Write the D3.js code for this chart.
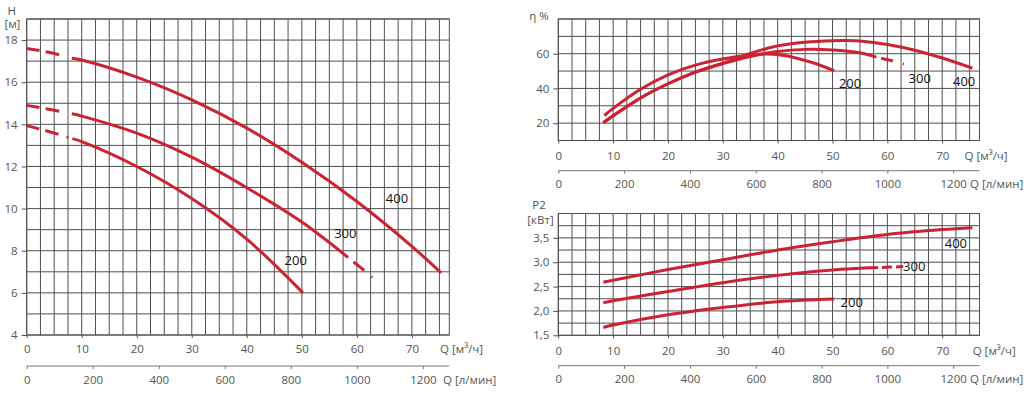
<!DOCTYPE html>
<html><head><meta charset="utf-8">
<script src="https://cdn.jsdelivr.net/npm/d3@7"></script>
<style>body{margin:0;background:#fff}svg{display:block}</style>
</head><body>
<svg id="c" width="1024" height="394"></svg>
<script>
// ---------- tick labels ----------
const qTicks = [0, 10, 20, 30, 40, 50, 60, 70];
const lminTicks = [0, 200, 400, 600, 800, 1000, 1200];
const hTicks = [4, 6, 8, 10, 12, 14, 16, 18];
const etaTicks = [20, 40, 60];
const p2Ticks = [1.5, 2.0, 2.5, 3.0, 3.5];
const seriesNames = ["200", "300", "400"];

// ---------- H [m] vs Q ----------
const h400DashQ = [0, 4, 8.2],  h400DashH = [17.6, 17.42, 17.14];
const h400Q = [8.2, 10, 20, 30, 40, 50, 60, 70, 75.3];
const h400H = [17.14, 17.05, 16.24, 15.16, 13.82, 12.2, 10.34, 8.21, 6.95];
const h300DashQ = [0, 4, 8.2],  h300DashH = [14.9, 14.72, 14.5];
const h300Q = [8.2, 10, 20, 30, 40, 50, 58.4];
const h300H = [14.5, 14.39, 13.58, 12.44, 10.99, 9.36, 7.68];
const h300EndQ = [58.4, 60.6, 62.8], h300EndH = [7.68, 7.22, 6.74];
const h200DashQ = [0, 4, 8.3],  h200DashH = [13.94, 13.66, 13.32];
const h200Q = [8.3, 10, 20, 30, 40, 50.2];
const h200H = [13.32, 13.18, 12.0, 10.48, 8.55, 6.0];

// ---------- efficiency [%] vs Q ----------
const e200Q = [8.4, 10, 15, 20, 25, 30, 35, 37.5, 40, 44, 47, 50.3];
const e200E = [24.4, 28.5, 39.5, 47.8, 53.4, 56.9, 59.2, 59.8, 59.5, 57, 54.2, 50.2];
const e300Q = [8.2, 10, 15, 20, 25, 30, 35, 40, 45, 50, 55, 58];
const e300E = [20.2, 24.2, 34.5, 42.7, 49.4, 54.3, 58.4, 61.3, 62.5, 62.2, 60.5, 58];
const e300EndQ = [58, 60.5, 63], e300EndE = [58, 56.2, 54];
const e400Q = [8.2, 10, 15, 20, 25, 30, 35, 40, 45, 50, 52.5, 55, 60, 65, 70, 75.5];
const e400E = [20.2, 24.2, 34.5, 42.7, 49.4, 54.5, 60.2, 64.5, 66.6, 67.5, 67.6, 67.3, 65.3, 62, 57.5, 51.7];

// ---------- P2 [kW] vs Q ----------
const p400Q = [8.2, 10, 20, 30, 40, 50, 60, 70, 75.5];
const p400P = [2.59, 2.63, 2.85, 3.05, 3.25, 3.42, 3.57, 3.67, 3.71];
const p300Q = [8.2, 10, 20, 30, 40, 50, 58.3];
const p300P = [2.17, 2.21, 2.40, 2.58, 2.73, 2.84, 2.89];
const p300EndQ = [58.3, 60.6, 62.9], p300EndP = [2.89, 2.90, 2.91];
const p200Q = [8.2, 10, 20, 30, 40, 50.3];
const p200P = [1.66, 1.71, 1.92, 2.07, 2.19, 2.245];

// label anchors (data units)
const hLabelQ = [48.9, 57.9, 67.3], hLabelV = [7.53, 8.83, 10.5];
const eLabelQ = [53.2, 65.9, 74.0], eLabelV = [42.6, 45.8, 43.9];
const pLabelQ = [53.5, 64.9, 72.5], pLabelV = [2.18, 2.91, 3.39];

const svg = d3.select("#c");
const FONT = "'Open Sans', 'Noto Sans', sans-serif";
const RED = "#cc2233";
const GRID = "#505050";
const TXT = "#555";

function panel(cfg) {
  const x = d3.scaleLinear().domain([0, 76.8]).range([cfg.x0, cfg.x1]);
  const xl = d3.scaleLinear().domain([0, 1280]).range([cfg.x0, cfg.x1]);
  const y = d3.scaleLinear().domain(cfg.yDomain).range([cfg.yBot, cfg.yTop]);
  const g = svg.append("g");

  // grid
  const vg = d3.range(0, 76.8, 2.5);
  g.append("g").selectAll("line").data(vg).join("line")
    .attr("x1", d => x(d)).attr("x2", d => x(d))
    .attr("y1", cfg.yTop).attr("y2", cfg.yBot)
    .attr("stroke", GRID).attr("stroke-width", 1);
  const hg = d3.range(cfg.yDomain[0], cfg.yDomain[1] + 1e-9, cfg.gridStep);
  g.append("g").selectAll("line").data(hg).join("line")
    .attr("x1", cfg.x0).attr("x2", cfg.x1)
    .attr("y1", d => y(d)).attr("y2", d => y(d))
    .attr("stroke", GRID).attr("stroke-width", 1);
  g.append("rect").attr("x", cfg.x0).attr("y", cfg.yTop)
    .attr("width", cfg.x1 - cfg.x0).attr("height", cfg.yBot - cfg.yTop)
    .attr("fill", "none").attr("stroke", GRID);

  // bottom axis (m3/h)
  const ax = g.append("g").attr("transform", `translate(0,${cfg.yBot})`)
    .call(d3.axisBottom(x).tickValues(qTicks).tickFormat(d3.format("d")).tickSize(3).tickSizeOuter(0));
  ax.select(".domain").remove();
  ax.attr("color", GRID).attr("font-family", FONT).attr("font-size", 11.5);
  ax.selectAll("text").attr("y", cfg.lab1 - cfg.yBot).attr("dy", "0.35em").attr("fill", TXT);
  g.append("text").attr("x", cfg.qLabX).attr("y", cfg.lab1).attr("dy", "0.35em")
    .attr("font-family", FONT).attr("font-size", 11.5).attr("fill", TXT)
    .text("Q [м³/ч]");

  // second axis (l/min)
  const ax2 = g.append("g").attr("transform", `translate(0,${cfg.ax2})`)
    .call(d3.axisBottom(xl).tickValues(lminTicks).tickFormat(d3.format("d")).tickSize(3).tickSizeOuter(0));
  ax2.attr("color", "#777").attr("font-family", FONT).attr("font-size", 11.5);
  ax2.select(".domain").attr("d", `M${cfg.x0},0H${cfg.x1}`);
  ax2.selectAll("text").attr("y", cfg.lab2 - cfg.ax2).attr("dy", "0.35em").attr("fill", TXT);
  g.append("text").attr("x", cfg.lminLabX).attr("y", cfg.lab2).attr("dy", "0.35em")
    .attr("font-family", FONT).attr("font-size", 11.5).attr("fill", TXT)
    .text("Q [л/мин]");

  // left axis
  const ay = g.append("g").attr("transform", `translate(${cfg.x0},0)`)
    .call(d3.axisLeft(y).tickValues(cfg.yTicks).tickSize(5).tickPadding(4)
      .tickFormat(cfg.fmt).tickSizeOuter(0));
  ay.select(".domain").remove();
  ay.attr("color", GRID).attr("font-family", FONT).attr("font-size", 11.5);
  ay.selectAll("text").attr("fill", TXT);

  // titles
  cfg.titles.forEach(t => {
    g.append("text").attr("x", t.x).attr("y", t.y).attr("dy", "0.35em")
      .attr("text-anchor", "middle").attr("font-family", FONT)
      .attr("font-size", 11.5).attr("fill", TXT).text(t.s);
  });

  // curves
  const line = d3.line().x(d => x(d[0])).y(d => y(d[1])).curve(d3.curveCatmullRom.alpha(0.5));
  cfg.series.forEach(s => {
    g.append("path").datum(d3.zip(s.q, s.v)).attr("d", line)
      .attr("fill", "none").attr("stroke", RED).attr("stroke-width", 3)
      .attr("stroke-dasharray", s.dash || null);
  });

  // labels
  cfg.labelQ.forEach((q, i) => {
    g.append("text").attr("x", x(q)).attr("y", y(cfg.labelV[i])).attr("dy", "0.35em")
      .attr("text-anchor", "middle").attr("font-family", FONT)
      .attr("font-size", 13).attr("fill", "#111").text(seriesNames[i]);
  });
}

panel({
  x0: 26.7, x1: 449.3, yTop: 19, yBot: 335, yDomain: [4, 19], gridStep: 1,
  yTicks: hTicks, fmt: d3.format("d"),
  lab1: 348.5, ax2: 366, lab2: 380, qLabX: 440, lminLabX: 443,
  titles: [{x: 11.7, y: 10.7, s: "H"}, {x: 12.4, y: 24, s: "[м]"}],
  series: [
    {q: h400DashQ, v: h400DashH, dash: "13,6,14,20"},
    {q: h400Q, v: h400H},
    {q: h300DashQ, v: h300DashH, dash: "13,6,14,20"},
    {q: h300Q, v: h300H},
    {q: h300EndQ, v: h300EndH, dash: "0,7,14,9,2,60"},
    {q: h200DashQ, v: h200DashH, dash: "13,6,14,8,2,20"},
    {q: h200Q, v: h200H}
  ],
  labelQ: hLabelQ, labelV: hLabelV
});

panel({
  x0: 558.3, x1: 979.5, yTop: 19, yBot: 140.5, yDomain: [10, 80], gridStep: 10,
  yTicks: etaTicks, fmt: d3.format("d"),
  lab1: 156, ax2: 170.7, lab2: 184.3, qLabX: 964.5, lminLabX: 970,
  titles: [{x: 539, y: 16, s: "η %"}],
  series: [
    {q: e200Q, v: e200E},
    {q: e300Q, v: e300E},
    {q: e300EndQ, v: e300EndE, dash: "0,5,12,10,2,60"},
    {q: e400Q, v: e400E}
  ],
  labelQ: eLabelQ, labelV: eLabelV
});

panel({
  x0: 558.3, x1: 979.5, yTop: 213.5, yBot: 335.3, yDomain: [1.5, 4.0], gridStep: 0.25,
  yTicks: p2Ticks, fmt: d => d3.format(".1f")(d).replace(".", ","),
  lab1: 351, ax2: 365.7, lab2: 379.3, qLabX: 972.7, lminLabX: 970,
  titles: [{x: 539, y: 205, s: "P2"}, {x: 540.5, y: 219.5, s: "[кВт]"}],
  series: [
    {q: p400Q, v: p400P},
    {q: p300Q, v: p300P},
    {q: p300EndQ, v: p300EndP, dash: "0,4,10,4,7,60"},
    {q: p200Q, v: p200P}
  ],
  labelQ: pLabelQ, labelV: pLabelV
});
</script>
</body></html>
